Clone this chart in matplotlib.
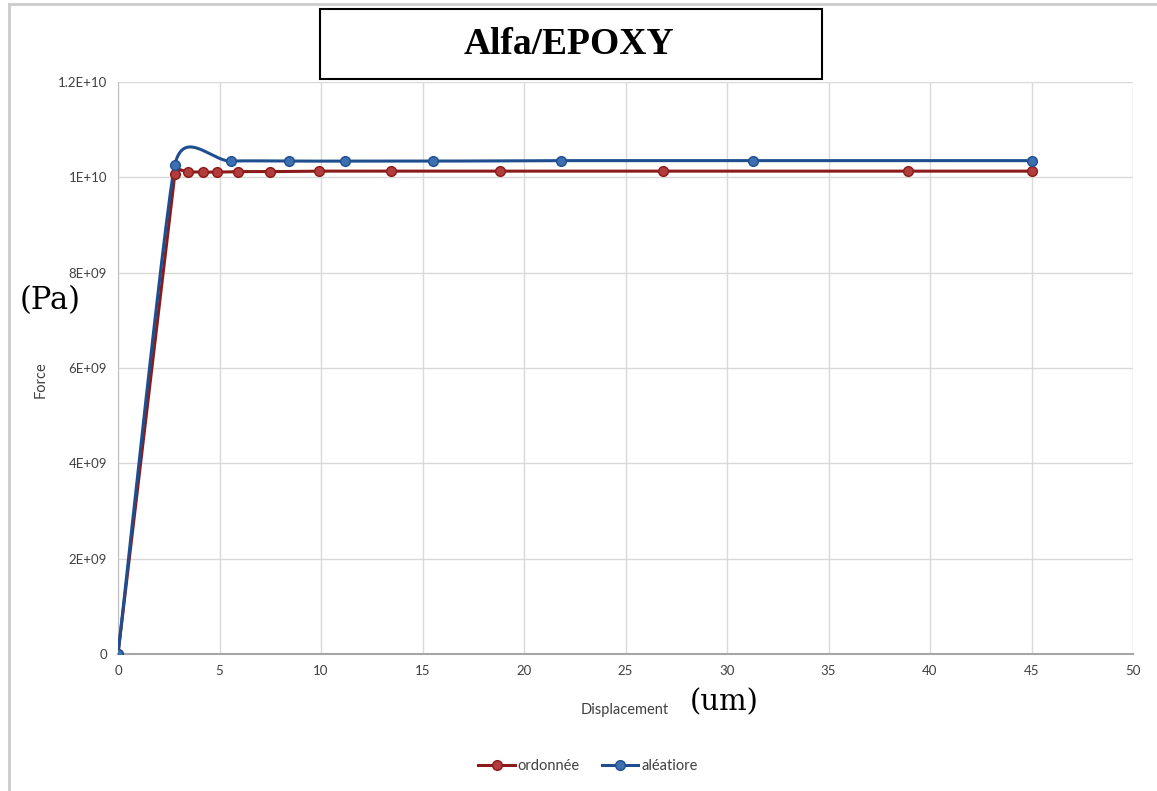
import numpy as np
import matplotlib.pyplot as plt
from matplotlib.patches import Rectangle
from matplotlib.lines import Line2D

# Displacement (um) and force (Pa) for the two fibre arrangements
x_ordonnee = [0, 2.8, 3.45, 4.19, 4.88, 5.9, 7.5, 9.9, 13.45, 18.8, 26.85, 38.9, 45]
y_ordonnee = [0, 1.007e10, 1.011e10, 1.011e10, 1.011e10, 1.012e10, 1.012e10,
              1.013e10, 1.013e10, 1.013e10, 1.013e10, 1.013e10, 1.013e10]

x_aleatoire = [0, 2.8, 5.57, 8.4, 11.2, 15.5, 21.8, 31.3, 45]
y_aleatoire = [0, 1.026e10, 1.034e10, 1.034e10, 1.034e10, 1.034e10,
               1.035e10, 1.035e10, 1.035e10]

y_ticks = [0, 2e9, 4e9, 6e9, 8e9, 1e10, 1.2e10]
y_tick_labels = ["0", "2E+09", "4E+09", "6E+09", "8E+09", "1E+10", "1.2E+10"]

W, H = 1157, 791
AX_L, AX_R, AX_T, AX_B = 118, 1133, 82, 654
XMAX, YMAX = 50, 1.2e10


def smooth(xs, ys, clamp=0.7, n=40):
    # smoothed line: Catmull-Rom tangents in screen units, clamped on short segments
    sx = (AX_R - AX_L) / XMAX
    sy = (AX_B - AX_T) / YMAX
    pts = np.column_stack([np.asarray(xs, float) * sx, np.asarray(ys, float) * sy])
    npts = len(pts)

    tangents = []
    for i in range(npts):
        a = pts[max(i - 1, 0)]
        b = pts[min(i + 1, npts - 1)]
        tan = (b - a) / 6
        lens = []
        if i > 0:
            lens.append(np.hypot(*(pts[i] - pts[i - 1])))
        if i < npts - 1:
            lens.append(np.hypot(*(pts[i + 1] - pts[i])))
        limit = clamp * min(lens)
        size = np.hypot(*tan)
        if size > limit:
            tan = tan * limit / size
        tangents.append(tan)

    out = [pts[0]]
    t = np.linspace(0, 1, n)[1:, None]
    for i in range(npts - 1):
        p1, p2 = pts[i], pts[i + 1]
        c1 = p1 + tangents[i]
        c2 = p2 - tangents[i + 1]
        seg = ((1 - t) ** 3) * p1 + 3 * ((1 - t) ** 2) * t * c1 \
            + 3 * (1 - t) * t ** 2 * c2 + t ** 3 * p2
        out.extend(seg)
    out = np.array(out)
    return out[:, 0] / sx, out[:, 1] / sy


fig = plt.figure(figsize=(11.57, 7.91), dpi=100)
ax = fig.add_axes([AX_L / W, 1 - AX_B / H, (AX_R - AX_L) / W, (AX_B - AX_T) / H])

red_line, red_face = "#8b1a1a", "#b23b3b"
blue_line, blue_face = "#1f4e8f", "#3b6fb0"

sx, sy = smooth(x_ordonnee, y_ordonnee)
ax.plot(sx, sy, color=red_line, lw=2.2, zorder=3)
ax.plot(x_ordonnee, y_ordonnee, "o", ms=7, mfc=red_face, mec=red_line, mew=1, zorder=4)

sx, sy = smooth(x_aleatoire, y_aleatoire)
ax.plot(sx, sy, color=blue_line, lw=2.2, zorder=3)
ax.plot(x_aleatoire, y_aleatoire, "o", ms=7, mfc=blue_face, mec=blue_line, mew=1, zorder=4)

ax.set_xlim(0, XMAX)
ax.set_ylim(0, YMAX)
ax.set_xticks(range(0, 51, 5))
ax.set_yticks(y_ticks)
ax.set_yticklabels(y_tick_labels)
ax.tick_params(length=0, labelsize=9.5, colors="#404040", pad=8)
for lab in ax.get_xticklabels() + ax.get_yticklabels():
    lab.set_family("Lato")
ax.grid(True, color="#d9d9d9", lw=1)
ax.set_axisbelow(True)
for side in ["top", "right"]:
    ax.spines[side].set_visible(False)
ax.spines["left"].set_color("#bfbfbf")
ax.spines["bottom"].set_color("#a6a6a6")
ax.spines["bottom"].set_linewidth(1.5)

# axis titles
fig.text(625 / W, 1 - 710 / H, "Displacement", fontsize=10.5, color="#404040",
         family="Lato", ha="center", va="center")
fig.text(41 / W, 1 - 380 / H, "Force", fontsize=10.5, color="#404040",
         family="Lato", ha="center", va="center", rotation=90)
fig.text(50 / W, 1 - 301 / H, "(Pa)", fontsize=22, family="DejaVu Serif",
         ha="center", va="center")
fig.text(724 / W, 1 - 702 / H, "(um)", fontsize=21, family="DejaVu Serif",
         ha="center", va="center")

# boxed title
fig.patches.append(Rectangle((320 / W, 1 - 79 / H), 502 / W, 70 / H,
                             transform=fig.transFigure, fill=False,
                             ec="black", lw=1.5))
fig.text(569 / W, 1 - 44 / H, "Alfa/EPOXY", fontsize=27, weight="bold",
         family="Liberation Serif", ha="center", va="center")

# chart border (top and left edges)
fig.lines.append(Line2D([9 / W, 1], [1 - 4 / H, 1 - 4 / H],
                        transform=fig.transFigure, color="#cccccc", lw=2))
fig.lines.append(Line2D([9 / W, 9 / W], [0, 1 - 4 / H],
                        transform=fig.transFigure, color="#cccccc", lw=2))

# legend
h1 = Line2D([], [], color=red_line, lw=2.2, marker="o", ms=7, mfc=red_face, mec=red_line)
h2 = Line2D([], [], color=blue_line, lw=2.2, marker="o", ms=7, mfc=blue_face, mec=blue_line)
fig.legend([h1, h2], ["ordonnée", "aléatiore"], loc="center",
           bbox_to_anchor=(588 / W, 1 - 766 / H), ncol=2, frameon=False,
           prop={"family": "Lato", "size": 10.5}, handlelength=2.5,
           handletextpad=0.2, columnspacing=1.5, labelcolor="#404040")

fig.savefig("out.png", dpi=100)
